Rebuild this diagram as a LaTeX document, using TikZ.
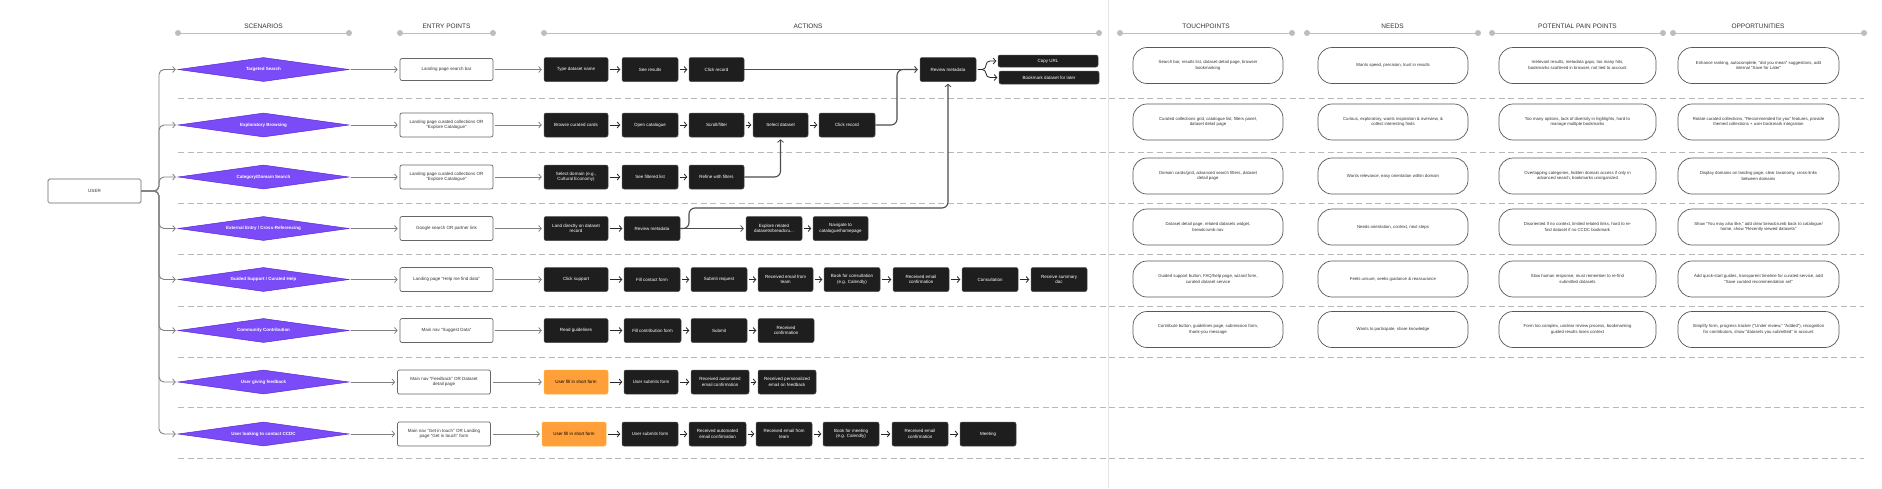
\documentclass[tikz,border=0pt]{standalone}
\usepackage{fontspec}
\setmainfont{Liberation Sans}
\usetikzlibrary{shapes.geometric,arrows.meta}
\definecolor{purp}{HTML}{7B4BF7}
\definecolor{purpd}{HTML}{5A2BD8}
\definecolor{blk}{HTML}{1E1E1E}
\definecolor{org}{HTML}{FF9F3A}
\definecolor{hdr}{HTML}{BDBDBD}
\definecolor{txt}{HTML}{333333}
\newcommand\ab[6][act]{\node[#1, minimum width={(#4-#3)*1pt}] (#2) at ({(#3+#4)/2},#5) {#6};}
\newcommand\hdrline[3]{\draw[hdrl] (#1,33) -- (#2,33); \fill[hdr] (#1,33) circle (3pt) (#2,33) circle (3pt); \node[hdrt] at ({(#1+#2)/2},26) {#3};}
\begin{document}
\begin{tikzpicture}[x=1pt,y=-1pt,
  small/.style={font=\fontsize{4.5}{5.4}\selectfont},
  act/.style={rectangle, rounded corners=2pt, fill=blk, draw=black!70, line width=0.5pt, text=white, small, align=center, minimum height=24pt, inner sep=1pt},
  actorg/.style={act, fill=org, draw=org!80!yellow, text=black},
  ent/.style={rectangle, rounded corners=2pt, fill=white, draw=black!60, line width=0.7pt, text=txt, small, align=center, minimum height=24pt, minimum width=93pt, inner sep=1pt},
  dia/.style={diamond, aspect=7, fill=purp, draw=purpd, line width=0.5pt, text=white, font=\fontsize{4.5}{5.4}\selectfont\bfseries, minimum width=171pt, minimum height=24pt, inner sep=0pt},
  pill/.style={rectangle, rounded corners=14pt, fill=white, draw=black!65, line width=0.7pt, text=txt, font=\fontsize{4.3}{5.6}\selectfont, align=center, minimum height=36pt, inner sep=1pt},
  hdrl/.style={draw=hdr, line width=1pt},
  hdrt/.style={text=txt, font=\fontsize{6.5}{8}\selectfont},
  sep/.style={draw=black!28, line width=0.9pt, dash pattern=on 6pt off 3.5pt},
  tip/.style={-{Straight Barb[length=2.6pt,width=6pt,line width=0.8pt]}},
  garr/.style={tip, draw=black!50, line width=0.9pt, shorten <=2pt, shorten >=2pt},
  gconn/.style={tip, draw=black!50, line width=0.9pt, rounded corners=5pt, shorten >=2pt},
  barr/.style={tip, draw=black!85, line width=0.8pt, shorten <=1.5pt, shorten >=1.5pt, rounded corners=4pt},
  darr/.style={tip, draw=black!70, line width=1.1pt, rounded corners=6pt, shorten >=2pt}
]
\useasboundingbox (0,0) rectangle (1882,488);
\fill[white] (0,0) rectangle (1882,488);
% vertical divider
\draw[black!10, line width=0.8pt] (1108,0) -- (1108,488);
% headers
\hdrline{178}{349}{SCENARIOS}
\hdrline{400}{493}{ENTRY POINTS}
\draw[hdrl] (544,33) -- (1099,33); \fill[hdr] (544,33) circle (3pt) (1099,33) circle (3pt); \node[hdrt] at (808,26) {ACTIONS};
\draw[hdrl] (1120,33) -- (1292,33); \fill[hdr] (1120,33) circle (3pt) (1292,33) circle (3pt); \node[hdrt] at (1206,26) {TOUCHPOINTS};
\hdrline{1307}{1478}{NEEDS}
\hdrline{1492}{1663}{POTENTIAL PAIN POINTS}
\draw[hdrl] (1673,33) -- (1864,33); \fill[hdr] (1673,33) circle (3pt) (1864,33) circle (3pt); \node[hdrt] at (1758,26) {OPPORTUNITIES};
% separators
\foreach \yy in {98,152,203,254,306,357,407,458} \draw[sep] (178,\yy) -- (1864,\yy);
% user
\node[rectangle, rounded corners=1.5pt, draw=black!60, line width=0.7pt, fill=white, text=txt, small, minimum width=93pt, minimum height=24pt] (user) at (94.5,191) {USER};
% scenarios
\node[dia] (d1) at (263.5,69.5) {Targeted Search};
\node[dia] (d2) at (263.5,125) {Exploratory Browsing};
\node[dia] (d3) at (263.5,177) {Category/Domain Search};
\node[dia] (d4) at (263.5,228.5) {External Entry / Cross-Referencing};
\node[dia] (d5) at (263.5,279.5) {Guided Support / Curated Help};
\node[dia] (d6) at (263.5,330.5) {Community Contribution};
\node[dia] (d7) at (263.5,382) {User giving feedback};
\node[dia] (d8) at (263.5,434) {User looking to contact CCDC};
\foreach \i in {1,...,8} \draw[gconn] (user.east) -- (159,191) |- (d\i.west);
% entry points
\node[ent, minimum height=22pt] (e1) at (446.5,69.5) {Landing page search bar};
\node[ent] (e2) at (446.5,125) {Landing page curated collections OR\\“Explore Catalogue”};
\node[ent] (e3) at (446.5,177) {Landing page curated collections OR\\“Explore Catalogue”};
\node[ent] (e4) at (446.5,228.5) {Google search OR partner link};
\node[ent] (e5) at (446.5,279.5) {Landing page “Help me find data”};
\node[ent] (e6) at (446.5,330.5) {Main nav “Suggest Data”};
\node[ent] (e7) at (444,382) {Main nav “Feedback” OR Dataset\\detail page};
\node[ent] (e8) at (444,434) {Main nav “Get in touch” OR Landing\\page “Get in touch” form};
\foreach \i in {1,...,8} \draw[garr] (d\i.east) -- (e\i.west);
% row 1
\ab{a11}{544}{608}{69.5}{Type dataset name}
\ab{a12}{622}{678}{69.5}{See results}
\ab{a13}{689}{744}{69.5}{Click record}
\ab{rev1}{920}{976}{69.5}{Review metadata}
\node[act, minimum width=100pt, minimum height=12pt] (cu) at (1048,61) {Copy URL};
\node[act, minimum width=100pt, minimum height=13pt] (bm) at (1049,77.5) {Bookmark dataset for later};
% row 2
\ab{a21}{544}{608}{125}{Browse curated cards}
\ab{a22}{622}{678}{125}{Open catalogue}
\ab{a23}{689}{744}{125}{Scroll/filter}
\ab{sel}{753}{808}{125}{Select dataset}
\ab{a25}{819}{875}{125}{Click record}
% row 3
\ab{a31}{544}{608}{177}{Select domain (e.g.,\\Cultural Economy)}
\ab{a32}{622}{678}{177}{See filtered list}
\ab{a33}{689}{744}{177}{Refine with filters}
% row 4
\ab{a41}{544}{608}{228.5}{Land directly on dataset\\record}
\ab{rev4}{624}{680}{228.5}{Review metadata}
\ab{a43}{746}{802}{228.5}{Explore related\\datasets/breadcru...}
\ab{a44}{813}{868}{228.5}{Navigate to\\catalogue/homepage}
% row 5
\ab{a51}{544}{608}{279.5}{Click support}
\ab{a52}{624}{680}{279.5}{Fill contact form}
\ab{a53}{691}{747}{279.5}{Submit request}
\ab{a54}{758}{813}{279.5}{Received email from\\team}
\ab{a55}{824}{880}{279.5}{Book for consultation\\(e.g. Calendly)}
\ab{a56}{893}{949}{279.5}{Received email\\confirmation}
\ab{a57}{962}{1018}{279.5}{Consultation}
\ab{a58}{1031}{1087}{279.5}{Receive summary\\doc}
% row 6
\ab{a61}{544}{608}{330.5}{Read guidelines}
\ab{a62}{624}{681}{330.5}{Fill contribution form}
\ab{a63}{691}{747}{330.5}{Submit}
\ab{a64}{758}{814}{330.5}{Received\\confirmation}
% row 7
\ab[actorg]{a71}{544}{608}{382}{User fill in short form}
\ab{a72}{624}{678}{382}{User submits form}
\ab{a73}{691}{749}{382}{Received automated\\email confirmation}
\ab{a74}{758}{816}{382}{Received personalized\\email on feedback}
% row 8
\ab[actorg]{a81}{542}{606}{434}{User fill in short form}
\ab{a82}{622}{678}{434}{User submits form}
\ab{a83}{689}{746}{434}{Received automated\\email confirmation}
\ab{a84}{756}{812}{434}{Received email from\\team}
\ab{a85}{823}{879}{434}{Book for meeting\\(e.g. Calendly)}
\ab{a86}{892}{948}{434}{Received email\\confirmation}
\ab{a87}{960}{1016}{434}{Meeting}
% entry -> first action
\draw[garr] (e1) -- (a11); \draw[garr] (e2) -- (a21); \draw[garr] (e3) -- (a31);
\draw[garr] (e4) -- (a41); \draw[garr] (e5) -- (a51); \draw[garr] (e6) -- (a61);
\draw[garr] (e7) -- (a71); \draw[garr] (e8) -- (a81);
% chains
\draw[barr] (a11) -- (a12); \draw[barr] (a12) -- (a13);
\draw[barr] (a21) -- (a22); \draw[barr] (a22) -- (a23); \draw[barr] (a23) -- (sel); \draw[barr] (sel) -- (a25);
\draw[barr] (a31) -- (a32); \draw[barr] (a32) -- (a33);
\draw[barr] (a41) -- (rev4); \draw[barr] (a43) -- (a44);
\draw[barr] (a51) -- (a52); \draw[barr] (a52) -- (a53); \draw[barr] (a53) -- (a54); \draw[barr] (a54) -- (a55); \draw[barr] (a55) -- (a56); \draw[barr] (a56) -- (a57); \draw[barr] (a57) -- (a58);
\draw[barr] (a61) -- (a62); \draw[barr] (a62) -- (a63); \draw[barr] (a63) -- (a64);
\draw[barr] (a71) -- (a72); \draw[barr] (a72) -- (a73); \draw[barr] (a73) -- (a74);
\draw[barr] (a81) -- (a82); \draw[barr] (a82) -- (a83); \draw[barr] (a83) -- (a84); \draw[barr] (a84) -- (a85); \draw[barr] (a85) -- (a86); \draw[barr] (a86) -- (a87);
% long connectors
\draw[darr] (a13.east) -- (rev1.west);
\draw[darr] (a25.east) -- (897,125) -- (897,69.5) -- (rev1.west);
\draw[darr] (a33.east) -- (sel.south |- a33.east) -- (sel.south);
\draw[darr] (rev4.east) -- (a43.west);
\draw[darr] (rev4.east) -- (689,228.5) -- (689,208) -- (rev1.south |- 0,208) -- (rev1.south);
\draw[barr] (rev1.east) -- (986,69.5) |- (cu.west);
\draw[barr] (rev1.east) -- (986,69.5) |- (bm.west);
% right columns
\node[pill, minimum width=150pt] (t1) at (1208,65.5) {Search bar, results list, dataset detail page, browser\\bookmarking};
\node[pill, minimum width=150pt] (t2) at (1208,122) {Curated collections grid, catalogue list, filters panel,\\dataset detail page};
\node[pill, minimum width=150pt] (t3) at (1208,176) {Domain cards/grid, advanced search filters, dataset\\detail page};
\node[pill, minimum width=150pt] (t4) at (1208,227) {Dataset detail page, related datasets widget,\\breadcrumb nav};
\node[pill, minimum width=150pt] (t5) at (1208,279) {Guided support button, FAQ/help page, wizard form,\\curated dataset service};
\node[pill, minimum width=150pt] (t6) at (1208,329.5) {Contribute button, guidelines page, submission form,\\thank-you message};
\node[pill, minimum width=150pt] (n1) at (1393,65.5) {Wants speed, precision, trust in results};
\node[pill, minimum width=150pt] (n2) at (1393,122) {Curious, exploratory, wants inspiration \& overview, \&\\collect interesting finds};
\node[pill, minimum width=150pt] (n3) at (1393,176) {Wants relevance, easy orientation within domain};
\node[pill, minimum width=150pt] (n4) at (1393,227) {Needs orientation, context, next steps};
\node[pill, minimum width=150pt] (n5) at (1393,279) {Feels unsure, seeks guidance \& reassurance};
\node[pill, minimum width=150pt] (n6) at (1393,329.5) {Wants to participate, share knowledge};
\node[pill, minimum width=157pt] (p1) at (1577.5,65.5) {Irrelevant results, metadata gaps, too many hits,\\bookmarks scattered in browser, not tied to account};
\node[pill, minimum width=157pt] (p2) at (1577.5,122) {Too many options, lack of diversity in highlights, hard to\\manage multiple bookmarks};
\node[pill, minimum width=157pt] (p3) at (1577.5,176) {Overlapping categories, hidden domain access if only in\\advanced search, bookmarks unorganized};
\node[pill, minimum width=157pt] (p4) at (1577.5,227) {Disoriented if no context, limited related links, hard to re-\\find dataset if no CCDC bookmark};
\node[pill, minimum width=157pt] (p5) at (1577.5,279) {Slow human response, must remember to re-find\\submitted datasets};
\node[pill, minimum width=157pt] (p6) at (1577.5,329.5) {Form too complex, unclear review process, bookmarking\\guided results loses context};
\node[pill, minimum width=161pt] (o1) at (1758.5,65.5) {Enhance ranking, autocomplete, “did you mean” suggestions, add\\internal “Save for Later”};
\node[pill, minimum width=161pt] (o2) at (1758.5,122) {Rotate curated collections, “Recommended for you” features, provide\\themed collections + user bookmark integration};
\node[pill, minimum width=161pt] (o3) at (1758.5,176) {Display domains on landing page, clear taxonomy, cross-links\\between domains};
\node[pill, minimum width=161pt] (o4) at (1758.5,227) {Show “You may also like,” add clear breadcrumb back to catalogue/\\home, show “Recently viewed datasets”};
\node[pill, minimum width=161pt] (o5) at (1758.5,279) {Add quick-start guides, transparent timeline for curated service, add\\“Save curated recommendation set”};
\node[pill, minimum width=161pt] (o6) at (1758.5,329.5) {Simplify form, progress tracker (“Under review,” “Added”), recognition\\for contributors, show “datasets you submitted” in account};
\end{tikzpicture}
\end{document}
